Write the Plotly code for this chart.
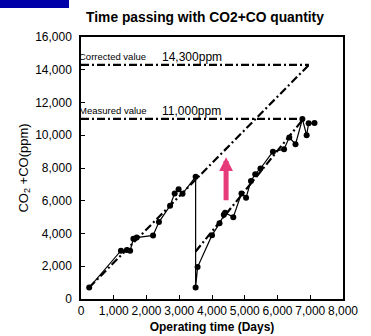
import plotly.graph_objects as go

# Operating time (days) and CO2+CO concentration (ppm) of the measured series
days = [250, 1220, 1400, 1500, 1600, 1700, 2200, 2380, 2720, 2860, 2980, 3100, 3500,
        3500, 3560, 4000, 4230, 4360, 4400, 4650, 4900, 5040, 5190, 5320, 5480, 5860,
        6200, 6360, 6550, 6760, 6890, 6950, 7130]
ppm = [700, 2950, 3000, 2950, 3680, 3750, 3880, 4700, 5700, 6450, 6700, 6420, 7470,
       700, 1950, 3900, 4620, 5150, 5270, 5000, 6450, 6190, 7210, 7620, 7970, 9000,
       9150, 9870, 9450, 10990, 10000, 10730, 10750]

# Trend lines (start and end of each)
trend_upper_x = [250, 6960]
trend_upper_y = [700, 14300]
trend_lower_x = [3500, 6790]
trend_lower_y = [2900, 11000]

# Reference levels
corrected_value = 14300
measured_value = 11000
corrected_end = 6960
measured_end = 6790
level_label_day = 2420

# Arrow showing the correction
arrow_day = 4430
arrow_from = 5940
arrow_to = 8650

x_ticks = [0, 1000, 2000, 3000, 4000, 5000, 6000, 7000, 8000]
y_ticks = [0, 2000, 4000, 6000, 8000, 10000, 12000, 14000, 16000]

FONT = "Liberation Sans, Arial, sans-serif"
NARROW = "Liberation Sans Narrow, Arial Narrow, sans-serif"
DASHDOT = "8px,3px,2px,3px"

fig = go.Figure()

# Dash-dot guide lines
for xs, ys in [
    ([0, corrected_end], [corrected_value, corrected_value]),
    ([0, measured_end], [measured_value, measured_value]),
    (trend_upper_x, trend_upper_y),
    (trend_lower_x, trend_lower_y),
]:
    fig.add_trace(go.Scatter(
        x=xs, y=ys, mode="lines",
        line=dict(color="black", width=2.2, dash=DASHDOT),
        hoverinfo="skip", showlegend=False,
    ))

# Measured values
fig.add_trace(go.Scatter(
    x=days, y=ppm, mode="lines+markers",
    line=dict(color="black", width=1.2),
    marker=dict(color="black", size=6),
    showlegend=False,
))

annotations = [
    dict(x=arrow_day, y=arrow_to, ax=arrow_day, ay=arrow_from,
         xref="x", yref="y", axref="x", ayref="y", text="",
         showarrow=True, arrowhead=2, arrowsize=0.55, arrowwidth=5,
         arrowcolor="#e63a7a"),
    dict(x=-0.016, y=corrected_value, xref="paper", yref="y", text="Corrected value",
         showarrow=False, xanchor="left", yanchor="bottom", yshift=1,
         font=dict(size=9.5, color="black", family=FONT)),
    dict(x=level_label_day, y=corrected_value, xref="x", yref="y", text="14,300ppm",
         showarrow=False, xanchor="left", yanchor="bottom", yshift=-1,
         font=dict(size=12, color="black", family=FONT)),
    dict(x=-0.016, y=measured_value, xref="paper", yref="y", text="Measured value",
         showarrow=False, xanchor="left", yanchor="bottom", yshift=1,
         font=dict(size=9.5, color="black", family=FONT)),
    dict(x=level_label_day, y=measured_value, xref="x", yref="y", text="11,000ppm",
         showarrow=False, xanchor="left", yanchor="bottom", yshift=-1,
         font=dict(size=12, color="black", family=FONT)),
]

fig.update_layout(
    width=371, height=336,
    margin=dict(l=81, r=28, t=37, b=37),
    paper_bgcolor="white", plot_bgcolor="white",
    font=dict(family=FONT, color="black", size=11),
    title=dict(text="<b>Time passing with CO2+CO quantity</b>",
               x=205 / 371, xanchor="center", y=1 - 17 / 336, yanchor="middle",
               font=dict(size=13.8, family=FONT, color="black")),
    annotations=annotations,
    shapes=[dict(type="rect", xref="paper", yref="paper",
                 x0=-81 / 262, x1=(69 - 81) / 262,
                 y0=(299 - 8) / 262, y1=299 / 262,
                 fillcolor="#0000a8", line=dict(width=0), layer="above")],
)

fig.update_xaxes(
    range=[0, 8000], tickvals=x_ticks, tickformat=",",
    ticks="inside", ticklen=4, tickwidth=1, tickcolor="black",
    showline=True, linecolor="black", linewidth=1.5, mirror=True,
    showgrid=False, zeroline=False, automargin=False,
    tickfont=dict(size=12, family=NARROW), ticklabelstandoff=0,
    title=dict(text="<b>Operating time (Days)</b>", standoff=5,
               font=dict(size=12, family=NARROW)),
)
fig.update_yaxes(
    range=[0, 16000], tickvals=y_ticks, tickformat=",",
    ticks="inside", ticklen=4, tickwidth=1, tickcolor="black",
    showline=True, linecolor="black", linewidth=1.5, mirror=True,
    showgrid=False, zeroline=False, automargin=False,
    tickfont=dict(size=12, family=FONT), ticklabelstandoff=5,
    title=dict(text="CO<sub>2</sub> +CO(ppm)", standoff=4,
               font=dict(size=13, family=FONT)),
)

fig.write_html("out.html")
